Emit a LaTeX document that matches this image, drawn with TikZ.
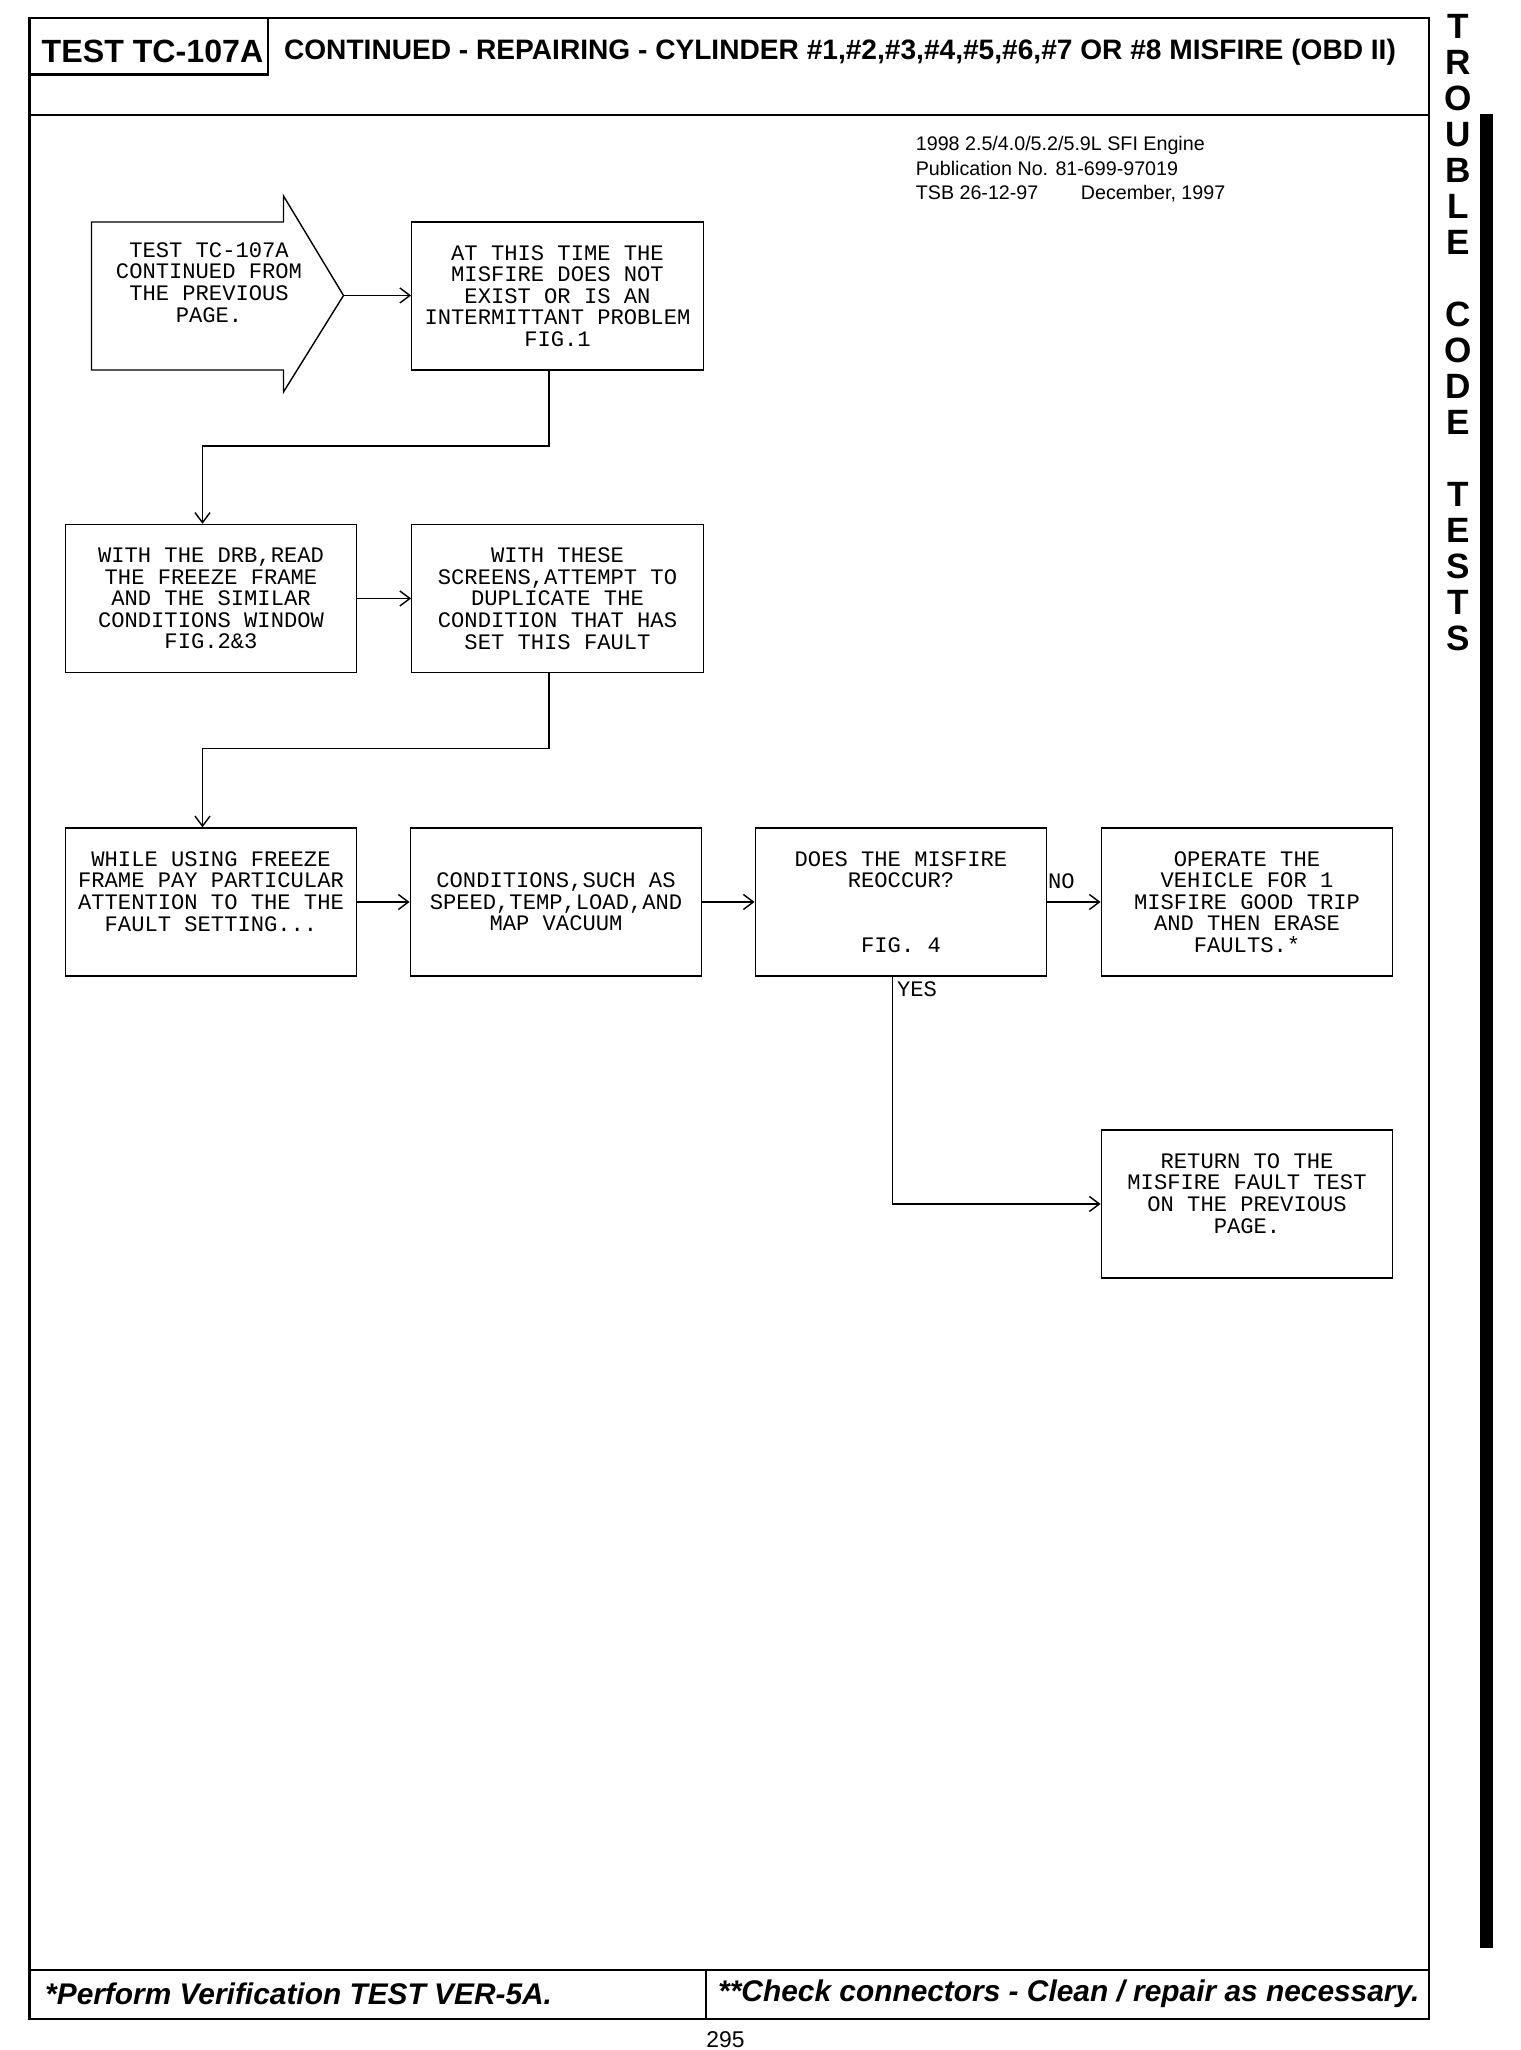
\documentclass[tikz,border=0pt]{standalone}
\usepackage{fontspec}
\setmainfont{Liberation Sans}
\newfontfamily\typewriter{Liberation Mono}
\usetikzlibrary{arrows.meta,positioning}
\definecolor{TCInk}{HTML}{000000}

\tikzset{
  tcbox/.style={draw=TCInk,line width=0.8pt,minimum width=5.83cm,minimum height=2.96cm,
    inner sep=0pt,align=center,font=\typewriter\fontsize{12.6}{12.3}\selectfont},
  tcnote/.style={inner sep=1pt,align=center,font=\typewriter\fontsize{12.6}{12.3}\selectfont},
  tcline/.style={draw=TCInk,line width=0.8pt,-{Straight Barb[length=2mm,width=3mm]}},
  tcframe/.style={draw=TCInk,line width=1.4pt},
}

\begin{document}
\begin{tikzpicture}[x=1cm,y=1cm]
\path[use as bounding box,fill=white] (0,0) rectangle (30.40,41.00);
% page frame, header and footer
\draw[tcframe] (0.59,0.62) rectangle (28.58,40.64);
\draw[tcframe] (0.59,38.70) -- (28.58,38.70);
\draw[tcframe] (0.59,1.60) -- (28.58,1.60);
\draw[tcframe] (14.12,0.62) -- (14.12,1.60);
\draw[tcframe] (0.59,39.51) rectangle (5.36,40.64);
\node[font=\bfseries\fontsize{18.3}{21}\selectfont] (testid) at (3.05,39.98) {TEST TC-107A};
\node[font=\bfseries\fontsize{16}{19}\selectfont] (title) at (16.80,39.96) {CONTINUED - REPAIRING - CYLINDER \#1,\#2,\#3,\#4,\#5,\#6,\#7 OR \#8 MISFIRE (OBD II)};
\node[anchor=north west,inner sep=0pt,align=left,font=\fontsize{11.2}{14}\selectfont] (pubinfo) at (18.31,38.28)
  {1998 2.5/4.0/5.2/5.9L SFI Engine\\Publication No. 81-699-97019\\TSB 26-12-97\hspace{0.85cm}December, 1997};
\node[anchor=west,font=\bfseries\itshape\fontsize{17}{19}\selectfont] (footleft) at (0.78,1.12) {*Perform Verification TEST VER-5A.};
\node[anchor=west,font=\bfseries\itshape\fontsize{17}{19}\selectfont] (footright) at (14.24,1.12) {**Check connectors - Clean / repair as necessary.};
\node[anchor=north,font=\fontsize{13}{15}\selectfont,inner sep=0pt] (pageno) at (14.51,0.38) {295};
% side tab
\node[anchor=north,inner sep=0pt,align=center,font=\bfseries\fontsize{20}{20.49}\selectfont] (sidetab) at (29.16,40.73)
  {T\\R\\O\\U\\B\\L\\E\\\mbox{}\\C\\O\\D\\E\\\mbox{}\\T\\E\\S\\T\\S};
\fill[TCInk] (29.60,2.04) rectangle (29.86,38.72);
% entry arrow
\draw[draw=TCInk,line width=0.8pt] (1.83,36.56) -- (5.67,36.56) -- (5.67,37.08) -- (6.87,35.09)
  -- (5.67,33.16) -- (5.67,33.60) -- (1.83,33.60) -- cycle;
\coordinate (starttip) at (6.87,35.09);
\node[tcnote] (start) at (4.18,35.35) {TEST TC-107A\\CONTINUED FROM\\THE PREVIOUS\\PAGE.};
% flow boxes
\node[tcbox] (nofault) at (11.15,35.08) {AT THIS TIME THE\\MISFIRE DOES NOT\\EXIST OR IS AN\\INTERMITTANT PROBLEM\\FIG.1};
\node[tcbox] (readff) at (4.22,29.03) {WITH THE DRB,READ\\THE FREEZE FRAME\\AND THE SIMILAR\\CONDITIONS WINDOW\\FIG.2\&3};
\node[tcbox] (duplicate) at (11.15,29.03) {WITH THESE\\SCREENS,ATTEMPT TO\\DUPLICATE THE\\CONDITION THAT HAS\\SET THIS FAULT};
\node[tcbox] (attention) at (4.22,22.96) {WHILE USING FREEZE\\FRAME PAY PARTICULAR\\ATTENTION TO THE THE\\FAULT SETTING...\\\mbox{}};
\node[tcbox] (conditions) at (11.12,22.96) {CONDITIONS,SUCH AS\\SPEED,TEMP,LOAD,AND\\MAP VACUUM};
\node[tcbox] (reoccur) at (18.02,22.96) {DOES THE MISFIRE\\REOCCUR?\\\mbox{}\\\mbox{}\\FIG. 4};
\node[tcbox] (goodtrip) at (24.94,22.96) {OPERATE THE\\VEHICLE FOR 1\\MISFIRE GOOD TRIP\\AND THEN ERASE\\FAULTS.*};
\node[tcbox] (goback) at (24.94,16.92) {RETURN TO THE\\MISFIRE FAULT TEST\\ON THE PREVIOUS\\PAGE.\\\mbox{}};
% connectors
\draw[tcline] (starttip) -- (starttip -| nofault.west);
\draw[tcline] ([xshift=-0.17cm]nofault.south) -- ++(0,-1.51) -| ([xshift=-0.17cm]readff.north);
\draw[tcline] (readff.east) -- (duplicate.west);
\draw[tcline] ([xshift=-0.17cm]duplicate.south) -- ++(0,-1.51) -| ([xshift=-0.17cm]attention.north);
\draw[tcline] (attention.east) -- (conditions.west);
\draw[tcline] (conditions.east) -- (reoccur.west);
\draw[tcline] (reoccur.east) -- (goodtrip.west);
\draw[tcline] ([xshift=-0.17cm]reoccur.south) |- (goback.west);
\node[tcnote,anchor=south west] (nolabel) at ([xshift=-0.03cm,yshift=0.22cm]reoccur.east) {NO};
\node[tcnote,anchor=north west] (yeslabel) at ([xshift=-0.12cm,yshift=-0.06cm]reoccur.south) {YES};
\end{tikzpicture}
\end{document}
